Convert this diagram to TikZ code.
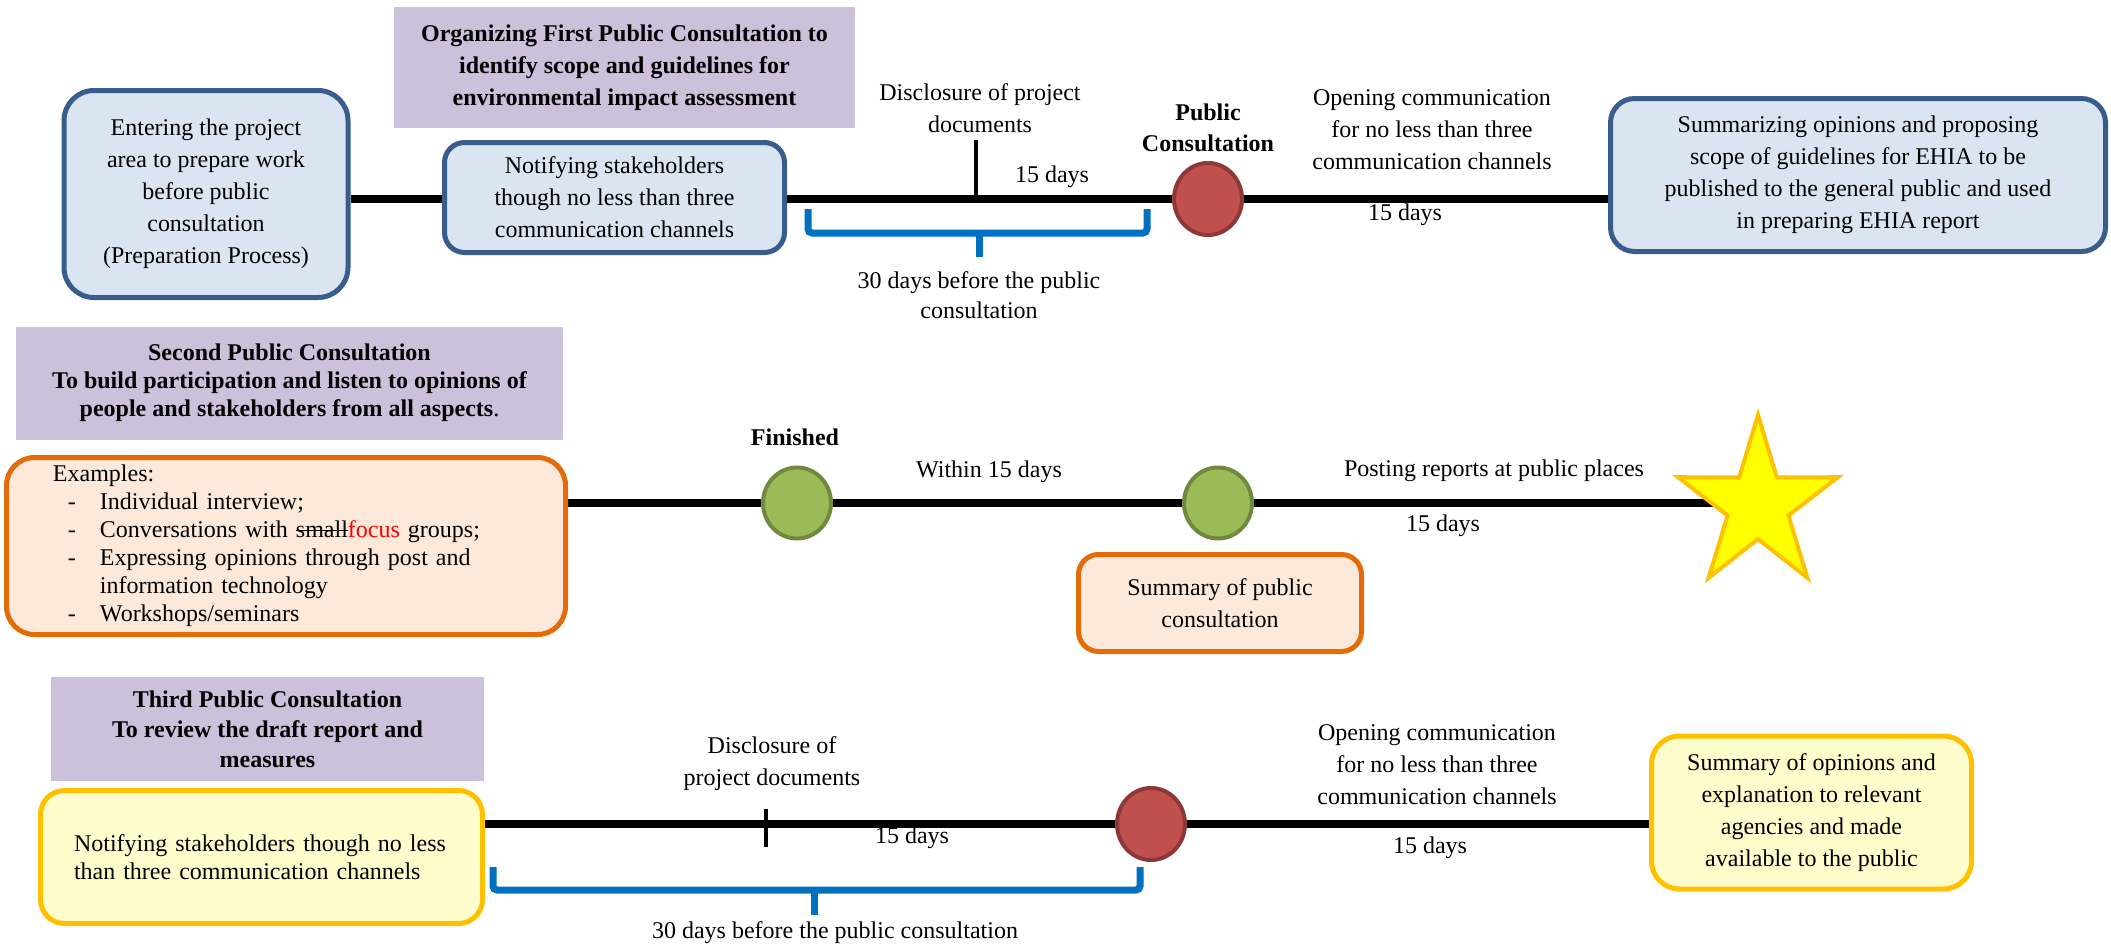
\documentclass[tikz,border=0pt]{standalone}
\usepackage{fontspec}
\setmainfont{Liberation Serif}
\usetikzlibrary{shapes.geometric}
\pgfdeclarelayer{background}
\pgfsetlayers{background,main}
\definecolor{purp}{HTML}{CCC0DA}
\definecolor{bluefill}{HTML}{DBE5F1}
\definecolor{blueline}{HTML}{385D8A}
\definecolor{redfill}{HTML}{C0504D}
\definecolor{redline}{HTML}{8C3836}
\definecolor{greenfill}{HTML}{9BBB59}
\definecolor{greenline}{HTML}{71893F}
\definecolor{orfill}{HTML}{FDE9D9}
\definecolor{orline}{HTML}{E36C09}
\definecolor{yelfill}{HTML}{FFFDCC}
\definecolor{yelline}{HTML}{FFC000}
\definecolor{starfill}{HTML}{FFFF00}
\definecolor{brblue}{HTML}{0070C0}
\newcommand{\strk}[1]{\setbox0\hbox{#1}\rlap{\rule[0.28em]{\wd0}{0.6pt}}\box0}
\newcommand{\dashitem}[1]{\makebox[23.5pt][l]{\hspace*{7.5pt}-}#1}
\tikzset{
  lbl/.style={font=\fontsize{12}{16}\selectfont, align=center, inner sep=0pt},
  blbl/.style={lbl, font=\fontsize{12}{16}\selectfont\bfseries},
  purplebox/.style={blbl, fill=purp, draw=none},
  bluebox/.style={lbl, fill=bluefill, draw=blueline, line width=2.5pt},
  orangebox/.style={lbl, fill=orfill, draw=orline, line width=2.5pt},
  yellowbox/.style={lbl, fill=yelfill, draw=yelline, line width=2.5pt},
  redcirc/.style={ellipse, fill=redfill, draw=redline, line width=2pt, minimum width=34pt, minimum height=36pt, inner sep=0pt},
  greencirc/.style={ellipse, fill=greenfill, draw=greenline, line width=2pt, minimum width=34pt, minimum height=35.5pt, inner sep=0pt},
  mainline/.style={line width=4pt, black},
  tickline/.style={line width=2pt, black},
  bracket/.style={line width=3.5pt, brblue, rounded corners=2pt},
}
\begin{document}
\begin{tikzpicture}[x=0.5pt,y=-0.5pt]
\useasboundingbox (0,0) rectangle (2111,948);

% ---------- Row 1 ----------
\node[purplebox, minimum width=230.5pt, minimum height=60.5pt] (p1) at (624.5,67.5)
  {Organizing First Public Consultation to\\identify scope and guidelines for\\environmental impact assessment};
\node[bluebox, rounded corners=15pt, minimum width=142pt, minimum height=103.5pt] (enter) at (206,194)
  {Entering the project\\area to prepare work\\before public\\consultation\\(Preparation Process)};
\node[bluebox, rounded corners=10pt, minimum width=170pt, minimum height=55pt] (notify) at (614.5,197.5)
  {Notifying stakeholders\\though no less than three\\communication channels};
\node[redcirc] (pc1) at (1208,199) {};
\node[bluebox, rounded corners=12pt, minimum width=247.5pt, minimum height=76.5pt] (summ1) at (1858,175)
  {Summarizing opinions and proposing\\scope of guidelines for EHIA to be\\published to the general public and used\\in preparing EHIA report};

\node[lbl] (disc1) at (980,108) {Disclosure of project\\documents};
\node[lbl] (d15a) at (1052,177) {15 days};
\node[lbl, font=\fontsize{12}{15}\selectfont] (b1lab) at (979,295) {30 days before the public\\consultation};
\node[blbl, font=\fontsize{12}{15.5}\selectfont\bfseries] (pclab) at (1208,128) {Public\\Consultation};
\node[lbl] (open1) at (1432,130) {Opening communication\\for no less than three\\communication channels};
\node[lbl] (d15b) at (1405,215) {15 days};

\coordinate (t1top) at (976,140);
\coordinate (b1l) at (808,209);
\coordinate (b1r) at (1147,209);
\coordinate (b1m) at (979,233);

\begin{pgfonlayer}{background}
  \draw[mainline] (enter.east |- pc1) -- (pc1 -| summ1.west);
\end{pgfonlayer}
\draw[tickline] (t1top) -- (t1top |- pc1);
\draw[bracket] (b1l) -- (b1l |- b1m) -- (b1r |- b1m) -- (b1r);
\draw[bracket] (b1m) -- ++(0,24);

% ---------- Row 2 ----------
\node[purplebox, font=\fontsize{12}{14}\selectfont\bfseries, minimum width=273.5pt, minimum height=56.5pt] (p2) at (289.5,383)
  {Second Public Consultation\\To build participation and listen to opinions of\\people and stakeholders from all aspects{\normalfont.}};
\node[orangebox, rounded corners=14pt, align=left, font=\fontsize{12}{14}\selectfont,
      minimum width=279.5pt, minimum height=88.5pt, inner xsep=23.25pt, text width=233pt] (examples) at (286,546)
  {Examples:\\
   \dashitem{Individual interview;}\\
   \dashitem{Conversations with \strk{small}\textcolor{red}{focus} groups;}\\
   \dashitem{Expressing opinions through post and}\\
   \hspace*{23.5pt}information technology\\
   \dashitem{Workshops/seminars}};
\node[greencirc] (g1) at (797,503) {};
\node[greencirc] (g2) at (1218,503) {};
\coordinate (starc) at (1758,503);
\node[orangebox, rounded corners=10pt, minimum width=141.5pt, minimum height=48.5pt] (summ2) at (1220,603)
  {Summary of public\\consultation};

\node[blbl] (fin) at (795,437) {Finished};
\node[lbl] (within) at (989,472) {Within 15 days};
\node[lbl] (post) at (1494,471) {Posting reports at public places};
\node[lbl] (d15c) at (1443,526) {15 days};

\begin{pgfonlayer}{background}
  \draw[mainline] (examples.east |- g1) -- (starc);
\end{pgfonlayer}
\draw[fill=starfill, draw=yelline, line width=2pt, line join=miter]
  (1758,415) -- (1776.8,477.5) -- (1837.9,477.2) -- (1788.4,515.5) -- (1807.4,577.8)
  -- (1758,539) -- (1708.6,577.8) -- (1727.6,515.5) -- (1678.1,477.2) -- (1739.2,477.5) -- cycle;

% ---------- Row 3 ----------
\node[purplebox, font=\fontsize{12}{15}\selectfont\bfseries, minimum width=216.5pt, minimum height=52pt] (p3) at (267.5,729)
  {Third Public Consultation\\To review the draft report and\\measures};
\node[yellowbox, rounded corners=12pt, align=left, font=\fontsize{12}{14}\selectfont,
      minimum width=221pt, minimum height=66.5pt, inner xsep=16.75pt, text width=187.5pt] (notif3) at (261.5,857)
  {Notifying stakeholders though no less\\than three communication channels};
\node[redcirc] (pc3) at (1151,824) {};
\node[yellowbox, rounded corners=14pt, minimum width=160pt, minimum height=76.5pt] (summ3) at (1811.5,812.5)
  {Summary of opinions and\\explanation to relevant\\agencies and made\\available to the public};

\node[lbl] (disc3) at (772,764) {Disclosure of\\project documents};
\node[lbl] (d15d) at (912,838) {15 days};
\node[lbl] (b3lab) at (835,933) {30 days before the public consultation};
\node[lbl] (open3) at (1437,765) {Opening communication\\for no less than three\\communication channels};
\node[lbl] (d15e) at (1430,848) {15 days};

\coordinate (t3a) at (766,809);
\coordinate (t3b) at (766,847);
\coordinate (b3l) at (493,867);
\coordinate (b3r) at (1140,867);
\coordinate (b3m) at (814,890);

\begin{pgfonlayer}{background}
  \draw[mainline] (notif3.east |- pc3) -- (pc3 -| summ3.west);
\end{pgfonlayer}
\draw[tickline] (t3a) -- (t3b);
\draw[bracket] (b3l) -- (b3l |- b3m) -- (b3r |- b3m) -- (b3r);
\draw[bracket] (b3m) -- ++(0,25);
\end{tikzpicture}
\end{document}
